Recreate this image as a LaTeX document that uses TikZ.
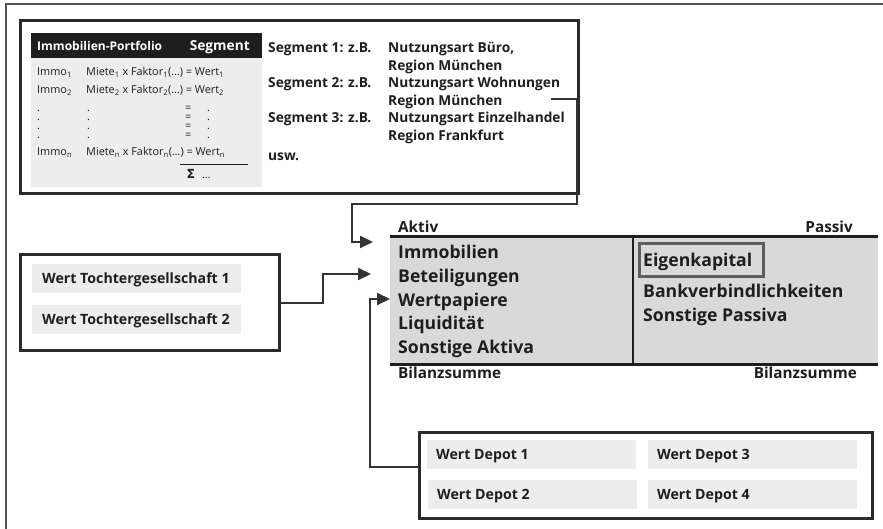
\documentclass[tikz,border=0pt]{standalone}
\usepackage{fontspec}
\setmainfont{Open Sans}
\newfontfamily\dejavu{DejaVu Sans}
\usetikzlibrary{arrows.meta}
\definecolor{ink}{HTML}{1E1E1E}
\definecolor{boxc}{HTML}{2A2A2A}
\definecolor{connc}{HTML}{333333}
\definecolor{framec}{HTML}{555555}
\definecolor{panelg}{HTML}{EDEDED}
\definecolor{balg}{HTML}{D9D9D9}
\definecolor{ekg}{HTML}{5E5E5E}
\newlength\calw
\newcommand\calib[4]{%
  \setbox0=\hbox{#2\fontsize{10pt}{12pt}\selectfont #3}%
  \calw=\wd0\relax
  \pgfmathsetmacro#1{10*#4/\calw}}
\newcommand\dotcol[1]{\vtop{\baselineskip=8.8pt\lineskip=0pt\lineskiplimit=-20pt
  \hbox{#1}\hbox{#1}\hbox{#1}\hbox{#1}}}
\begin{document}
\calib{\szbig}{\bfseries}{Sonstige AktivaBankverbindlichkeitenSonstige PassivaImmobilien}{581}%
\calib{\szseg}{\bfseries}{Segment 1: z.B.Nutzungsart Wohnungen}{275}%
\calib{\szsmall}{\bfseries}{Bilanzsumme}{103}%
\calib{\szbox}{\bfseries}{Wert Tochtergesellschaft 1Wert Depot 1}{280}%
\calib{\szhp}{\bfseries}{Immobilien-Portfolio}{125}%
\calib{\szhs}{\bfseries}{Segment}{60}%
\calib{\szrow}{}{Miete\textsubscript{1} x Faktor\textsubscript{1}(…) = Wert\textsubscript{1}}{138}%
\tikzset{
  box/.style={draw=boxc, line width=3pt, inner sep=0pt, anchor=north west},
  conn/.style={draw=connc, line width=2pt, -{Triangle[length=13pt,width=12pt]}},
  lbl/.style={inner sep=0pt, anchor=base west, text=ink},
  rowf/.style={lbl, font=\fontsize{\szrow}{\szrow}\selectfont},
  segf/.style={lbl, font=\bfseries\fontsize{\szseg}{\szseg}\selectfont},
  bigf/.style={lbl, font=\bfseries\fontsize{\szbig}{\szbig}\selectfont},
  smallb/.style={lbl, font=\bfseries\fontsize{\szsmall}{\szsmall}\selectfont},
  ibox/.style={fill=panelg, inner sep=0pt, anchor=north west, minimum width=209pt, minimum height=29pt},
  boxtxt/.style={lbl, font=\bfseries\fontsize{\szbox}{\szbox}\selectfont},
}
\begin{tikzpicture}[x=1pt,y=-1pt]
\useasboundingbox (0,0) rectangle (883,529);
% outer frame
\draw[framec, line width=1.2pt] (6,529) -- (6,4) -- (883,4);

% top box
\node[box, minimum width=558pt, minimum height=173pt] (top) at (19,19) {};
\node[fill=panelg, inner sep=0pt, anchor=north west, minimum width=231pt, minimum height=154pt] (panel) at (31,33) {};
\node[fill=ink, inner sep=0pt, anchor=north west, minimum width=231pt, minimum height=25pt] (head) at (31,33) {};
\node[lbl, text=white, font=\bfseries\fontsize{\szhp}{\szhp}\selectfont] (hp) at (37,51) {Immobilien-Portfolio};
\node[lbl, anchor=base east, text=white, font=\bfseries\fontsize{\szhs}{\szhs}\selectfont] (hs) at (250,51) {Segment};

\node[rowf] (i1) at (37,76) {Immo\textsubscript{1}};
\node[rowf] (m1) at (86,76) {Miete\textsubscript{1} x Faktor\textsubscript{1}(…) = Wert\textsubscript{1}};
\node[rowf] (i2) at (37,94) {Immo\textsubscript{2}};
\node[rowf] (m2) at (86,94) {Miete\textsubscript{2} x Faktor\textsubscript{2}(…) = Wert\textsubscript{2}};
\node[rowf] (da) at (37,112) {\dotcol{.}};
\node[rowf] (db) at (87,112) {\dotcol{.}};
\node[rowf] (dc) at (185,112) {\dotcol{=}};
\node[rowf] (dd) at (207,112) {\dotcol{.}};
\node[rowf] (in) at (37,155.5) {Immo\textsubscript{n}};
\node[rowf] (mn) at (86,155.5) {Miete\textsubscript{n} x Faktor\textsubscript{n}(…) = Wert\textsubscript{n}};
\draw[ink, line width=1pt] (180,165) -- (248,165);
\node[lbl, font=\dejavu\bfseries\fontsize{12.5}{14}\selectfont] (sig) at (186.5,178.5) {Σ};
\node[rowf] (sdots) at (202,178.5) {…};

\node[segf] (s1a) at (268,53) {Segment 1: z.B.};
\node[segf] (s1b) at (388,53) {Nutzungsart Büro,};
\node[segf] (s1c) at (388,70.5) {Region München};
\node[segf] (s2a) at (268,88) {Segment 2: z.B.};
\node[segf] (s2b) at (388,88) {Nutzungsart Wohnungen};
\node[segf] (s2c) at (388,105.5) {Region München};
\node[segf] (s3a) at (268,123) {Segment 3: z.B.};
\node[segf] (s3b) at (388,123) {Nutzungsart Einzelhandel};
\node[segf] (s3c) at (388,140.5) {Region Frankfurt};
\node[segf] (usw) at (268,160.5) {usw.};

% balance sheet
\node[fill=balg, inner sep=0pt, anchor=north west, minimum width=488pt, minimum height=127pt] (bal) at (390,237) {};
\draw[ink, line width=3pt] (bal.north west) -- (bal.north east);
\draw[ink, line width=3pt] (bal.south west) -- (bal.south east);
\draw[ink, line width=2.5pt] (633,237) -- (633,364);
\node[smallb] (aktiv) at (398,233) {Aktiv};
\node[smallb, anchor=base east] (passiv) at (853,233) {Passiv};
\node[smallb] (bs1) at (398,378.5) {Bilanzsumme};
\node[smallb, anchor=base east] (bs2) at (857,378.5) {Bilanzsumme};
\node[bigf] (a1) at (398,259) {Immobilien};
\node[bigf] (a2) at (398,282.5) {Beteiligungen};
\node[bigf] (a3) at (398,306) {Wertpapiere};
\node[bigf] (a4) at (398,329.5) {Liquidität};
\node[bigf] (a5) at (398,353) {Sonstige Aktiva};
\node[draw=ekg, line width=3pt, inner sep=0pt, anchor=north west, minimum width=124pt, minimum height=33pt] (ek) at (638,242) {};
\node[bigf] (p1) at (643,266) {Eigenkapital};
\node[bigf] (p2) at (643,298) {Bankverbindlichkeiten};
\node[bigf] (p3) at (643,321) {Sonstige Passiva};

% Tochter box
\node[box, minimum width=259pt, minimum height=96pt] (toch) at (19,253) {};
\node[ibox] (t1) at (32,264) {};
\node[ibox] (t2) at (32,305) {};
\node[boxtxt] (t1t) at (42,283.5) {Wert Tochtergesellschaft 1};
\node[boxtxt] (t2t) at (42,324.5) {Wert Tochtergesellschaft 2};

% Depot box
\node[box, minimum width=453pt, minimum height=86pt] (dep) at (418,431) {};
\node[ibox] (d1) at (427,440) {};
\node[ibox] (d2) at (428,480) {};
\node[ibox] (d3) at (648,440) {};
\node[ibox] (d4) at (648,480) {};
\node[boxtxt] (d1t) at (436,459.5) {Wert Depot 1};
\node[boxtxt] (d2t) at (437,499.5) {Wert Depot 2};
\node[boxtxt] (d3t) at (657,459.5) {Wert Depot 3};
\node[boxtxt] (d4t) at (657,499.5) {Wert Depot 4};

% connectors
\coordinate (c1s) at (551,99);
\coordinate (c1e) at (373,242);
\draw[conn] (c1s) -- (577,99) -- (577,204) -- (352,204) -- (352,242) -- (c1e);
\coordinate (c2e) at (371,274);
\draw[conn] (toch.east) -| (323,274) -- (c2e);
\coordinate (c3s) at (418,467);
\coordinate (c3e) at (390,299);
\draw[conn] (c3s) -| (370,299) -- (c3e);
\end{tikzpicture}
\end{document}
